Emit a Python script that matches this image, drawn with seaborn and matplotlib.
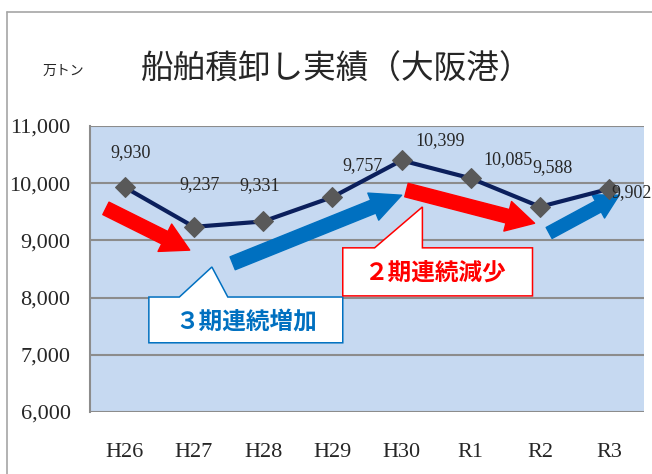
import pandas as pd
import numpy as np
import matplotlib.pyplot as plt
import seaborn as sns
from matplotlib.patches import Polygon
from matplotlib.lines import Line2D

# Data (万トン)
years = ['H26', 'H27', 'H28', 'H29', 'H30', 'R1', 'R2', 'R3']
tonnage = [9930, 9237, 9331, 9757, 10399, 10085, 9588, 9902]
y_ticks = [6000, 7000, 8000, 9000, 10000, 11000]

title = '船舶積卸し実績（大阪港）'
unit = '万トン'
up_text = '３期連続増加'
down_text = '２期連続減少'

# label placement (pixels from the point)
label_offsets = [(6, 35), (6, 42), (-3, 36), (30, 32), (39, 20), (37, 19), (12, 39), (22, -4)]

# trend arrows: tail, tip (data coords), colour, tail width, head width, head length (pt)
trend_arrows = [
    ((-0.27, 9560), (0.94, 8830), '#FF0000', 10, 22, 20),
    ((1.56, 8600), (4.0, 9790), '#0070C0', 10, 21, 22),
    ((4.07, 9880), (5.92, 9300), '#FF0000', 10, 22, 20),
    ((6.13, 9130), (7.14, 9790), '#0070C0', 9, 19, 17),
]

blue_col = '#0070C0'
red_col = '#FF0000'

sns.set_style('white')
plt.rcParams['font.family'] = ['Liberation Serif', 'Noto Sans CJK JP', 'DejaVu Sans']

df = pd.DataFrame({'year': years, 'tonnage': tonnage})

fig = plt.figure(figsize=(6.52, 4.74), dpi=100)
ax = fig.add_axes([90 / 652, 62 / 474, 554 / 652, 286 / 474])
ax.set_facecolor('#C6D9F1')

sns.lineplot(data=df, x='year', y='tonnage', sort=False, ax=ax, color='#0B1F5C',
             linewidth=3, marker='D', markersize=10, markerfacecolor='#595959',
             markeredgecolor='#595959', zorder=4)

ax.set_xlim(-0.5, len(years) - 0.5)
ax.set_ylim(y_ticks[0], y_ticks[-1])
ax.set_yticks(y_ticks)
ax.set_yticklabels([f'{t:,}' for t in y_ticks], fontsize=16)
ax.set_xticks(range(len(years)))
ax.set_xticklabels(years, fontsize=16)
ax.set_xlabel('')
ax.set_ylabel('')
ax.grid(axis='y', color='#8C8C8C', linewidth=1.5)
ax.set_axisbelow(True)
ax.tick_params(axis='y', length=5, width=1.5, color='#8C8C8C', pad=9)
ax.tick_params(axis='x', length=0, pad=22)
for side in ['top', 'right', 'bottom']:
    ax.spines[side].set_visible(False)
ax.spines['left'].set_color('#8C8C8C')
ax.spines['left'].set_linewidth(1.5)

# value labels
for i, (v, (dx, dy)) in enumerate(zip(tonnage, label_offsets)):
    ax.annotate(f'{v:,}', (i, v), xytext=(dx, dy), textcoords='offset pixels',
                ha='center', va='center', fontsize=13, zorder=6)

# trend arrows
for tail, tip, col, tw, hw, hl in trend_arrows:
    ax.annotate('', xy=tip, xytext=tail,
                arrowprops=dict(arrowstyle=f'simple,head_length={hl},head_width={hw},tail_width={tw}',
                                mutation_scale=1, color=col, shrinkA=0, shrinkB=0), zorder=3)

# callouts
blue_box = [(0.35, 7210), (0.35, 8010), (0.79, 8010), (1.26, 8535), (1.49, 8010),
            (3.15, 8010), (3.15, 7210)]
red_box = [(3.15, 8030), (3.15, 8870), (3.61, 8870), (4.30, 9585), (4.30, 8870),
           (5.89, 8870), (5.89, 8030)]
ax.add_patch(Polygon(blue_box, closed=True, facecolor='white', edgecolor=blue_col, lw=1.1, zorder=5))
ax.add_patch(Polygon(red_box, closed=True, facecolor='white', edgecolor=red_col, lw=1.1, zorder=5))
ax.text(1.75, 7575, up_text, color=blue_col, fontsize=17, fontweight='bold',
        family=['Noto Sans CJK JP'], ha='center', va='center', zorder=6)
ax.text(4.50, 8430, down_text, color=red_col, fontsize=17, fontweight='bold',
        family=['Noto Sans CJK JP'], ha='center', va='center', zorder=6)

# title and unit
fig.text(337 / 652, 1 - 70 / 474, title, ha='center', va='center', fontsize=23.5,
         family=['Noto Sans CJK JP'])
fig.text(63 / 652, 1 - 71 / 474, unit, ha='center', va='center', fontsize=10,
         family=['Noto Sans CJK JP'])

# outer frame
fig.add_artist(Line2D([7 / 652, 7 / 652], [0, 1 - 12 / 474], color='#A6A6A6', lw=1.2,
                      transform=fig.transFigure))
fig.add_artist(Line2D([7 / 652, 1], [1 - 12 / 474, 1 - 12 / 474], color='#A6A6A6', lw=1.2,
                      transform=fig.transFigure))

fig.savefig('out.png', dpi=100)
